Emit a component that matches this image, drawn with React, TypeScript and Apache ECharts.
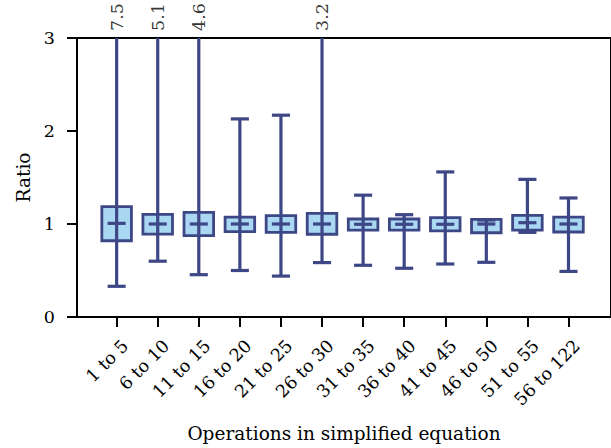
import React, { useEffect, useRef } from 'react';
import * as echarts from 'echarts';

const categories = [
  '1 to 5', '6 to 10', '11 to 15', '16 to 20', '21 to 25', '26 to 30',
  '31 to 35', '36 to 40', '41 to 45', '46 to 50', '51 to 55', '56 to 122',
];
const whiskerLow = [0.33, 0.6, 0.455, 0.5, 0.44, 0.585, 0.556, 0.524, 0.57, 0.588, 0.91, 0.49];
const q1 = [0.82, 0.892, 0.875, 0.918, 0.91, 0.89, 0.935, 0.935, 0.925, 0.906, 0.935, 0.914];
const median = [1.007, 1.0, 1.0, 1.0, 1.0, 1.0, 0.997, 0.997, 0.997, 1.0, 1.014, 1.0];
const q3 = [1.186, 1.104, 1.126, 1.075, 1.09, 1.115, 1.054, 1.054, 1.068, 1.05, 1.093, 1.075];
const whiskerHigh = [7.5, 5.1, 4.6, 2.13, 2.17, 3.2, 1.31, 1.1, 1.56, 1.043, 1.48, 1.28];
const yTicks = [0, 1, 2, 3];

const FONT = 'DejaVu Serif';
const STROKE = '#3d4785';
const FILL = '#aad8f3';

export default function App() {
  const ref = useRef<HTMLDivElement>(null);
  useEffect(() => {
    const chart = echarts.init(ref.current!, null, { renderer: 'svg' });
    const yMax = yTicks[yTicks.length - 1];
    const boxData = categories.map((_, i) => [i, whiskerLow[i], q1[i], median[i], q3[i], whiskerHigh[i]]);
    const topLabels = whiskerHigh
      .map((v, i) => (v > yMax ? [i, yMax, v] : null))
      .filter((d) => d !== null);
    const idx = categories.map((_, i) => i);

    chart.setOption({
      animation: false,
      grid: {
        left: 77, top: 38, width: 539, height: 279,
        show: true, borderColor: '#000', borderWidth: 2, backgroundColor: 'transparent',
      },
      xAxis: {
        type: 'value', min: -0.965, max: 12.035,
        splitLine: { show: false },
        axisLine: { show: true, onZero: false, lineStyle: { color: '#000', width: 2 } },
        axisTick: { show: true, length: 10, lineStyle: { color: '#000', width: 2 }, customValues: idx },
        axisLabel: {
          customValues: idx,
          formatter: (v: number) => categories[Math.round(v)],
          rotate: 45, fontSize: 17.5, fontFamily: FONT, color: '#000',
          margin: 16, verticalAlign: 'top', padding: [4, 1, 0, 0],
        },
        name: 'Operations in simplified equation', nameLocation: 'middle', nameGap: 107,
        nameTextStyle: { fontSize: 18.5, fontFamily: FONT, color: '#000' },
      },
      yAxis: {
        type: 'value', min: 0, max: yMax, interval: 1,
        splitLine: { show: false },
        axisLine: { show: true, onZero: false, lineStyle: { color: '#000', width: 2 } },
        axisTick: { show: true, length: 10, lineStyle: { color: '#000', width: 2 } },
        axisLabel: { fontSize: 17.5, fontFamily: FONT, color: '#000', margin: 22 },
        name: 'Ratio', nameLocation: 'middle', nameGap: 44,
        nameTextStyle: { fontSize: 18.5, fontFamily: FONT, color: '#000' },
      },
      series: [
        {
          type: 'custom',
          data: boxData,
          encode: { x: 0, y: [1, 2, 3, 4, 5] },
          renderItem: (params: any, api: any) => {
            const x = api.value(0);
            const lo = api.value(1), a = api.value(2), m = api.value(3), b = api.value(4), hi = api.value(5);
            const cs = params.coordSys;
            const top = cs.y, bottom = cs.y + cs.height;
            const clampY = (y: number) => Math.max(top, Math.min(bottom, y));
            const cx = api.coord([x, lo])[0];
            const yLo = api.coord([x, lo])[1];
            const yA = api.coord([x, a])[1];
            const yM = api.coord([x, m])[1];
            const yB = api.coord([x, b])[1];
            const yHi = api.coord([x, hi])[1];
            const unit = api.size([1, 0])[0];
            const bh = unit * 0.36;
            const ch = unit * 0.22;
            const lineStyle = { stroke: STROKE, lineWidth: 3.2, fill: 'none' };
            const children: any[] = [
              { type: 'rect', shape: { x: cx - bh, y: yB, width: 2 * bh, height: yA - yB },
                style: { fill: FILL, stroke: STROKE, lineWidth: 2.8 } },
              { type: 'line', shape: { x1: cx, y1: clampY(yLo), x2: cx, y2: clampY(yHi) }, style: lineStyle },
              { type: 'line', shape: { x1: cx - ch, y1: yM, x2: cx + ch, y2: yM }, style: lineStyle },
            ];
            if (yLo >= top && yLo <= bottom) {
              children.push({ type: 'line', shape: { x1: cx - ch, y1: yLo, x2: cx + ch, y2: yLo }, style: lineStyle });
            }
            if (yHi >= top && yHi <= bottom) {
              children.push({ type: 'line', shape: { x1: cx - ch, y1: yHi, x2: cx + ch, y2: yHi }, style: lineStyle });
            }
            return { type: 'group', children };
          },
        },
        {
          type: 'scatter',
          data: topLabels,
          encode: { x: 0, y: 1 },
          symbolSize: 0.1,
          clip: false,
          itemStyle: { color: 'transparent' },
          label: {
            show: true, position: 'top', distance: 7, rotate: 90,
            align: 'left', verticalAlign: 'middle',
            formatter: (p: any) => p.value[2].toFixed(1),
            fontSize: 17.5, fontFamily: FONT, color: '#000',
          },
        },
      ],
    });
    return () => chart.dispose();
  }, []);
  return <div ref={ref} style={{ position: 'absolute', left: 0, top: 0, width: 611, height: 448 }} />;
}
